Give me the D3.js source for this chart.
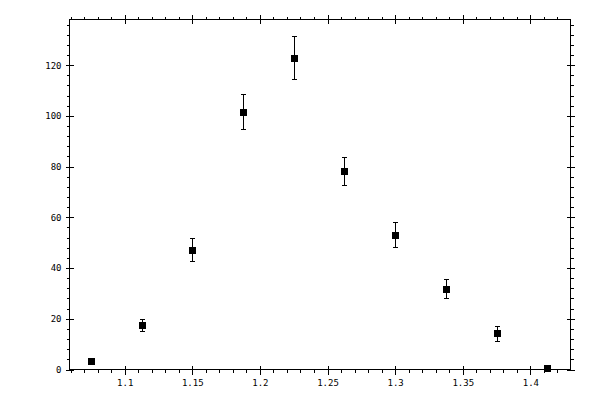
<!DOCTYPE html>
<html>
<head>
<meta charset="utf-8">
<script src="https://cdn.jsdelivr.net/npm/d3@7"></script>
<style>
  body { margin: 0; background: #fff; }
  .tick text { font-family: "DejaVu Sans Mono", monospace; font-size: 9px; fill: #000; }
  .axis path, .axis line { stroke: #000; shape-rendering: crispEdges; }
</style>
</head>
<body>
<div id="chart"></div>
<script>
// bin centres, counts and their errors
const xValues = [1.075, 1.1125, 1.15, 1.1875, 1.225, 1.2625, 1.3, 1.3375, 1.375, 1.4125];
const yValues = [3.2, 17.7, 47.3, 101.7, 123.0, 78.1, 53.2, 31.9, 14.2, 0.6];
const yErrors = [1.0, 2.4, 4.7, 7.0, 8.4, 5.5, 4.9, 3.7, 2.8, 0.5];

const xMajor = [1.1, 1.15, 1.2, 1.25, 1.3, 1.35, 1.4];
const xLabels = ["1.1", "1.15", "1.2", "1.25", "1.3", "1.35", "1.4"];
const yMajor = [0, 20, 40, 60, 80, 100, 120];

const width = 600, height = 400;
const frame = ({left: 69.5, right: 570.5, top: 19.5, bottom: 369.5});

const svg = d3.select("#chart")
  .append("svg")
  .attr("width", width)
  .attr("height", height);

const x = d3.scaleLinear().domain([1.0592, 1.4297]).range([frame.left, frame.right]);
const y = d3.scaleLinear().domain([0, 138]).range([frame.bottom, frame.top]);

const xMinor = d3.range(106, 144).map(d => d / 100).filter(d => d >= x.domain()[0] && d <= x.domain()[1]);
const yMinor = d3.range(0, 139, 4);

// frame
svg.append("rect")
  .attr("x", frame.left).attr("y", frame.top)
  .attr("width", frame.right - frame.left).attr("height", frame.bottom - frame.top)
  .attr("fill", "none").attr("stroke", "#000")
  .attr("shape-rendering", "crispEdges");

function addAxis(axis, tx, ty) {
  svg.append("g")
    .attr("class", "axis")
    .attr("transform", `translate(${tx},${ty})`)
    .call(axis)
    .call(g => g.select(".domain").remove());
}

// bottom
addAxis(d3.axisBottom(x).tickValues(xMajor).tickSize(5).tickPadding(5)
  .tickFormat((d, i) => xLabels[i]), 0, frame.bottom);
addAxis(d3.axisTop(x).tickValues(xMajor).tickSize(4).tickFormat(""), 0, frame.bottom);
addAxis(d3.axisBottom(x).tickValues(xMinor).tickSize(3).tickFormat(""), 0, frame.bottom);
// top
addAxis(d3.axisTop(x).tickValues(xMajor).tickSize(5).tickFormat(""), 0, frame.top);
addAxis(d3.axisBottom(x).tickValues(xMajor).tickSize(4).tickFormat(""), 0, frame.top);
addAxis(d3.axisTop(x).tickValues(xMinor).tickSize(3).tickFormat(""), 0, frame.top);
// left
addAxis(d3.axisLeft(y).tickValues(yMajor).tickSize(4).tickPadding(4), frame.left, 0);
addAxis(d3.axisRight(y).tickValues(yMajor).tickSize(4).tickFormat(""), frame.left, 0);
addAxis(d3.axisLeft(y).tickValues(yMinor).tickSize(3).tickFormat(""), frame.left, 0);
// right
addAxis(d3.axisRight(y).tickValues(yMajor).tickSize(4).tickFormat(""), frame.right, 0);
addAxis(d3.axisLeft(y).tickValues(yMajor).tickSize(4).tickFormat(""), frame.right, 0);
addAxis(d3.axisRight(y).tickValues(yMinor).tickSize(3).tickFormat(""), frame.right, 0);

const points = xValues.map((d, i) => ({x: d, y: yValues[i], e: yErrors[i]}));

const bars = svg.append("g")
  .attr("stroke", "#000")
  .attr("stroke-width", 1)
  .attr("shape-rendering", "crispEdges");

bars.selectAll(".err")
  .data(points)
  .enter()
  .append("line")
  .attr("class", "err")
  .attr("x1", d => Math.round(x(d.x)) + 0.5)
  .attr("x2", d => Math.round(x(d.x)) + 0.5)
  .attr("y1", d => y(d.y - d.e))
  .attr("y2", d => y(d.y + d.e));

bars.selectAll(".capTop")
  .data(points)
  .enter()
  .append("line")
  .attr("class", "capTop")
  .attr("x1", d => Math.round(x(d.x)) - 2)
  .attr("x2", d => Math.round(x(d.x)) + 3)
  .attr("y1", d => Math.round(y(d.y + d.e)) + 0.5)
  .attr("y2", d => Math.round(y(d.y + d.e)) + 0.5);

bars.selectAll(".capBottom")
  .data(points)
  .enter()
  .append("line")
  .attr("class", "capBottom")
  .attr("x1", d => Math.round(x(d.x)) - 2)
  .attr("x2", d => Math.round(x(d.x)) + 3)
  .attr("y1", d => Math.round(y(d.y - d.e)) + 0.5)
  .attr("y2", d => Math.round(y(d.y - d.e)) + 0.5);

svg.selectAll(".marker")
  .data(points)
  .enter()
  .append("rect")
  .attr("class", "marker")
  .attr("x", d => Math.round(x(d.x)) - 3)
  .attr("y", d => Math.round(y(d.y)) - 3)
  .attr("width", 7)
  .attr("height", 7)
  .attr("fill", "#000")
  .attr("shape-rendering", "crispEdges");
</script>
</body>
</html>
